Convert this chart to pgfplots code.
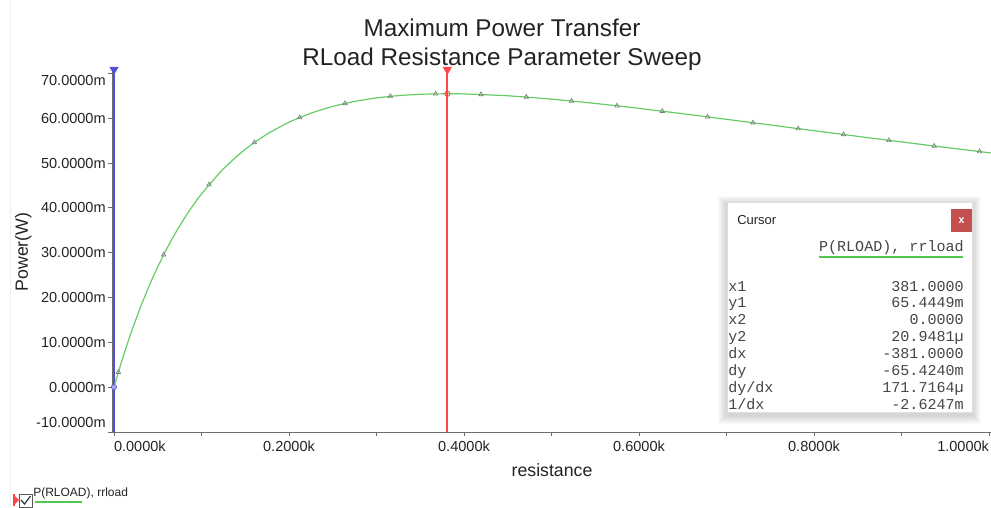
\documentclass[border=0pt]{standalone}
\usepackage{fontspec}
\setmainfont{Liberation Sans}
\setmonofont{Liberation Mono}
\usepackage{pgfplots}
\pgfplotsset{compat=1.18}
\definecolor{curve}{RGB}{102,204,102}
\definecolor{cblue}{RGB}{80,80,220}
\definecolor{cursred}{RGB}{255,70,70}
\definecolor{axgray}{RGB}{110,110,110}
\definecolor{txt}{RGB}{35,35,35}
\definecolor{mk}{RGB}{125,125,125}
\definecolor{boxtxt}{RGB}{70,70,70}
\definecolor{closered}{RGB}{196,79,79}
\definecolor{uline}{RGB}{80,200,80}
\begin{document}
\begin{tikzpicture}
\begin{axis}[
  scale only axis, width=659.25pt, height=271.35pt,
  at={(84pt,-324pt)}, anchor=south west,
  xmin=-2.29, xmax=1002.3, ymin=-10, ymax=70.7,
  clip=false,
  axis x line*=bottom, axis y line*=left,
  axis line style={draw=axgray, line width=0.6pt, -},
  tick style={draw=axgray, line width=0.6pt},
  tick align=outside, major tick length=3pt, minor tick length=3pt,
  xtick={0,200,...,1000}, minor xtick={100,300,...,900},
  xticklabels={\makebox[0pt][l]{0.0000k},0.2000k,0.4000k,0.6000k,0.8000k,\makebox[0pt][r]{1.0000k}},
  ytick={-10,0,...,70},
  yticklabels={\raisebox{3.6pt}[0pt][0pt]{-10.0000m},0.0000m,10.0000m,20.0000m,30.0000m,40.0000m,50.0000m,60.0000m,\raisebox{-9.15pt}[0pt][0pt]{70.0000m}},
  ticklabel style={font=\fontsize{10.9}{13}\selectfont, text=txt},
  yticklabel style={xshift=1.8pt},
  title={Maximum Power Transfer\\RLoad Resistance Parameter Sweep},
  title style={at={(axis description cs:0.4437,1.048)}, anchor=center, align=center, font=\fontsize{18.2}{21.2}\selectfont, text=txt},
  xlabel={resistance},
  xlabel style={at={(axis description cs:0.5006,-0.105)}, anchor=center, font=\fontsize{13.3}{16}\selectfont, text=txt},
  ylabel={Power(W)},
  ylabel style={at={(axis description cs:-0.101,0.4975)}, anchor=center, font=\fontsize{13.3}{16}\selectfont, text=txt},
]
\addplot[draw=cblue, line width=1.8pt] coordinates {(0,-10) (0,70.7)};
\addplot[draw=curve, line width=0.9pt, smooth, tension=0.4] coordinates {
(0,0.021) (2,1.360) (5,3.347) (10,6.524) (15,9.541) (20,12.405) (30,17.714)
(40,22.509) (50,26.846) (60,30.771) (70,34.325) (80,37.546) (90,40.464)
(100,43.110) (125,48.694) (150,53.061) (175,56.462) (200,59.094) (225,61.109)
(250,62.625) (275,63.738) (300,64.520) (325,65.034) (350,65.328) (381,65.446)
(400,65.407) (450,64.995) (500,64.252) (550,63.290) (600,62.184) (650,60.991)
(700,59.747) (750,58.480) (800,57.209) (850,55.946) (900,54.703) (950,53.486)
(1000,52.298) (1002,52.251)};
\addplot[only marks, mark=triangle, mark size=1.9pt, mark options={draw=mk, line width=0.5pt}] coordinates {
(5,3.347) (56.8,29.557) (108.6,45.188) (160.4,54.580) (212.2,60.147) (264,63.293)
(315.8,64.873) (367.6,65.425) (419.4,65.296) (471.2,64.713) (523,63.831)
(574.8,62.756) (626.6,61.558) (678.4,60.289) (730.2,58.982) (782,57.665)
(833.8,56.354) (885.6,55.059) (937.4,53.790) (989.2,52.551)};
\addplot[draw=cursred, line width=1.6pt, mark=none] coordinates {(381,-10) (381,70.7)};
\addplot[only marks, mark=o, mark size=2pt, mark options={draw=cursred, line width=0.6pt}] coordinates {(381,65.445)};
\addplot[only marks, mark=*, mark size=2pt, mark options={draw=cblue, fill=cblue!50}] coordinates {(0,0.021)};
\addplot[only marks, mark=triangle*, mark size=3.6pt, mark options={rotate=180, fill=cblue, draw=cblue}] coordinates {(0,70.85)};
\addplot[only marks, mark=triangle*, mark size=3.6pt, mark options={rotate=180, fill=cursred, draw=cursred}] coordinates {(381,70.85)};
\end{axis}
\begin{scope}[x=0.75pt,y=-0.75pt]
  \draw[gray!12, line width=0.6pt] (10,0) -- (10,507);
  \foreach \d in {1,...,9} {
    \fill[black, opacity=0.018] (727-\d,202-\d+3) rectangle (972+\d,412+\d+3);
  }
  \fill[white] (727,202) rectangle (972,412);
  \draw[gray!25, line width=0.5pt] (727,202) rectangle (972,412);
  \node[anchor=west, font=\fontsize{9.75}{12}\selectfont, text=txt, inner sep=0pt] at (737,220) {Cursor};
  \fill[closered] (951,209) rectangle (972,232);
  \node[text=white, font=\bfseries\fontsize{8}{9}\selectfont, inner sep=0pt] at (961.5,220.5) {x};
  \node[anchor=base east, font=\ttfamily\fontsize{11.3}{13}\selectfont, text=boxtxt, inner sep=0pt] at (964,251) {P(RLOAD), rrload};
  \draw[uline, line width=1.5pt] (819,257) -- (963,257);
  \foreach \lab/\val [count=\i from 0] in {x1/381.0000, y1/65.4449m, x2/0.0000, y2/{20.9481µ}, dx/-381.0000, dy/-65.4240m, {dy/dx}/{171.7164µ}, {1/dx}/-2.6247m} {
    \node[anchor=base west, font=\ttfamily\fontsize{11.3}{13}\selectfont, text=boxtxt, inner sep=0pt] at (728,291+16.9*\i) {\lab};
    \node[anchor=base east, font=\ttfamily\fontsize{11.3}{13}\selectfont, text=boxtxt, inner sep=0pt] at (964,291+16.9*\i) {\val};
  }
  \fill[cursred] (14,495) -- (19,500) -- (14,505) -- cycle;
  \draw[cursred, line width=0.9pt] (14,494) -- (14,506);
  \draw[gray!70!black, line width=0.7pt, fill=white] (19,494) rectangle (32,507);
  \draw[black!80, line width=0.9pt] (21,500) -- (24.5,504) -- (30.5,496);
  \node[anchor=base west, font=\fontsize{9}{11}\selectfont, text=txt, inner sep=0pt] at (33,496) {P(RLOAD), rrload};
  \draw[uline, line width=1.2pt] (35,502) -- (82,502);
  \pgfresetboundingbox
  \path[use as bounding box] (0,0) rectangle (991,507);
\end{scope}
\end{tikzpicture}
\end{document}
